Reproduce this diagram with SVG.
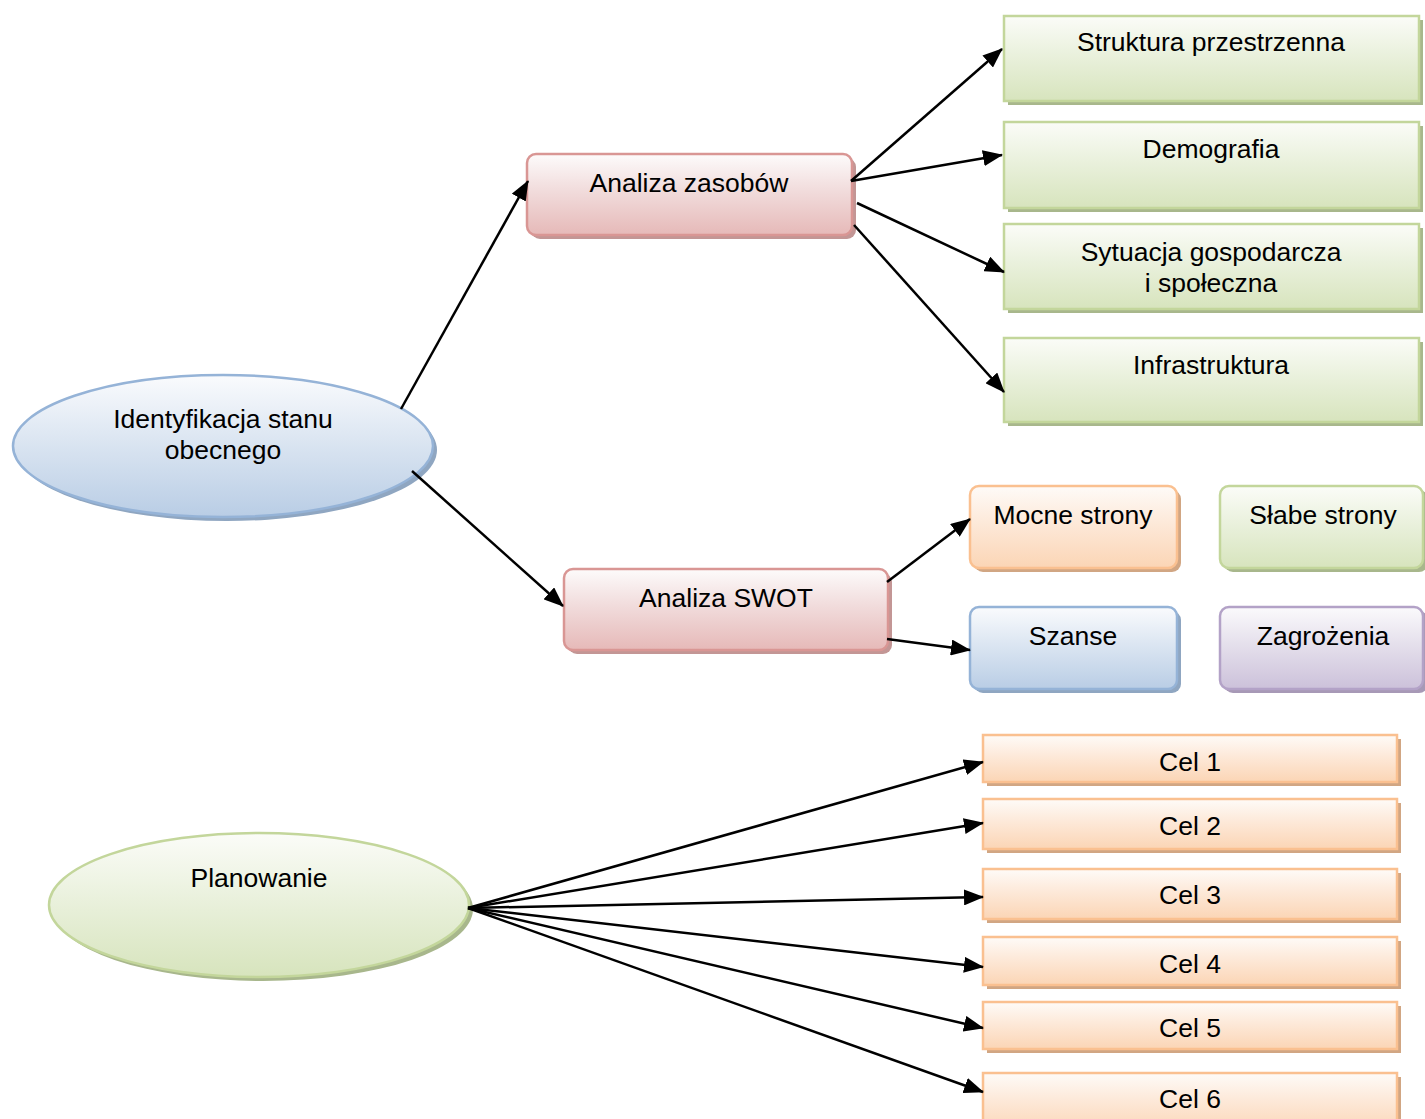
<svg xmlns="http://www.w3.org/2000/svg" width="1425" height="1119" viewBox="0 0 1425 1119">
<defs>
<linearGradient id="gGreen" x1="0" y1="0" x2="0" y2="1"><stop offset="0" stop-color="#fbfcf8"/><stop offset="0.45" stop-color="#eaf1dd"/><stop offset="1" stop-color="#d7e4bd"/></linearGradient>
<linearGradient id="gRed" x1="0" y1="0" x2="0" y2="1"><stop offset="0" stop-color="#fdfbfb"/><stop offset="0.45" stop-color="#f1dcdc"/><stop offset="1" stop-color="#e6b9b8"/></linearGradient>
<linearGradient id="gOrange" x1="0" y1="0" x2="0" y2="1"><stop offset="0" stop-color="#fefbf8"/><stop offset="0.45" stop-color="#fde9d9"/><stop offset="1" stop-color="#fbd5b5"/></linearGradient>
<linearGradient id="gBlue" x1="0" y1="0" x2="0" y2="1"><stop offset="0" stop-color="#fafbfd"/><stop offset="0.45" stop-color="#dce6f2"/><stop offset="1" stop-color="#b9cde5"/></linearGradient>
<linearGradient id="gPurple" x1="0" y1="0" x2="0" y2="1"><stop offset="0" stop-color="#fbfafc"/><stop offset="0.45" stop-color="#e5e0ec"/><stop offset="1" stop-color="#ccc1da"/></linearGradient>
<marker id="arr" markerUnits="userSpaceOnUse" markerWidth="20" markerHeight="16" viewBox="0 0 20 16" refX="19" refY="8" orient="auto">
<path d="M0,0 L20,8 L0,16 z" fill="#000"/>
</marker>
</defs>
<style>
text{font-family:"Liberation Sans",Arial,sans-serif;font-size:26.5px;fill:#000;text-anchor:middle}
.green{fill:url(#gGreen);stroke:#c3d69b;stroke-width:2.5}
.red{fill:url(#gRed);stroke:#d99694;stroke-width:2.5}
.orange{fill:url(#gOrange);stroke:#fac090;stroke-width:2.5}
.blue{fill:url(#gBlue);stroke:#95b3d7;stroke-width:2.5}
.purple{fill:url(#gPurple);stroke:#b3a2c7;stroke-width:2.5}
.shG{fill:#a8b78c}
.shR{fill:#c39695}
.shO{fill:#d1a683}
.shB{fill:#8fa6c1}
.shP{fill:#a799b6}
.conn line{stroke:#000;stroke-width:2.5;marker-end:url(#arr)}
</style>

<g id="identyfikacja">
<ellipse class="shB" cx="227" cy="450" rx="210" ry="71"/>
<ellipse class="blue" cx="223" cy="446" rx="210" ry="71"/>
<text x="223" y="428">Identyfikacja stanu</text>
<text x="223" y="459">obecnego</text>
</g>

<g id="planowanie">
<ellipse class="shG" cx="263" cy="909" rx="210" ry="72"/>
<ellipse class="green" cx="259" cy="905" rx="210" ry="72"/>
<text x="259" y="887">Planowanie</text>
</g>

<g id="analiza-zasobow">
<rect class="shR" x="531" y="158" width="325" height="81" rx="9"/>
<rect class="red" x="527" y="154" width="325" height="81" rx="9"/>
<text x="689" y="192">Analiza zasobów</text>
</g>

<g id="analiza-swot">
<rect class="shR" x="568" y="573" width="324" height="81" rx="9"/>
<rect class="red" x="564" y="569" width="324" height="81" rx="9"/>
<text x="726" y="607">Analiza SWOT</text>
</g>

<g id="struktura">
<rect class="shG" x="1008" y="20" width="415" height="85"/>
<rect class="green" x="1004" y="16" width="415" height="85"/>
<text x="1211" y="51">Struktura przestrzenna</text>
</g>

<g id="demografia">
<rect class="shG" x="1008" y="126" width="415" height="86"/>
<rect class="green" x="1004" y="122" width="415" height="86"/>
<text x="1211" y="158">Demografia</text>
</g>

<g id="sytuacja">
<rect class="shG" x="1008" y="228" width="415" height="85"/>
<rect class="green" x="1004" y="224" width="415" height="85"/>
<text x="1211" y="261">Sytuacja gospodarcza</text>
<text x="1211" y="292">i społeczna</text>
</g>

<g id="infrastruktura">
<rect class="shG" x="1008" y="342" width="415" height="84"/>
<rect class="green" x="1004" y="338" width="415" height="84"/>
<text x="1211" y="374">Infrastruktura</text>
</g>

<g id="mocne">
<rect class="shO" x="974" y="490" width="207" height="82" rx="9"/>
<rect class="orange" x="970" y="486" width="207" height="82" rx="9"/>
<text x="1073" y="524">Mocne strony</text>
</g>

<g id="slabe">
<rect class="shG" x="1224" y="490" width="204" height="82" rx="9"/>
<rect class="green" x="1220" y="486" width="203" height="82" rx="9"/>
<text x="1323" y="524">Słabe strony</text>
</g>

<g id="szanse">
<rect class="shB" x="974" y="611" width="207" height="82" rx="9"/>
<rect class="blue" x="970" y="607" width="207" height="82" rx="9"/>
<text x="1073" y="645">Szanse</text>
</g>

<g id="zagrozenia">
<rect class="shP" x="1224" y="611" width="204" height="82" rx="9"/>
<rect class="purple" x="1220" y="607" width="203" height="82" rx="9"/>
<text x="1323" y="645">Zagrożenia</text>
</g>

<g id="cel1">
<rect class="shO" x="987" y="739" width="414" height="47"/>
<rect class="orange" x="983" y="735" width="414" height="47"/>
<text x="1190" y="771">Cel 1</text>
</g>
<g id="cel2">
<rect class="shO" x="987" y="803" width="414" height="50"/>
<rect class="orange" x="983" y="799" width="414" height="50"/>
<text x="1190" y="835">Cel 2</text>
</g>
<g id="cel3">
<rect class="shO" x="987" y="873" width="414" height="50"/>
<rect class="orange" x="983" y="869" width="414" height="50"/>
<text x="1190" y="904">Cel 3</text>
</g>
<g id="cel4">
<rect class="shO" x="987" y="941" width="414" height="48"/>
<rect class="orange" x="983" y="937" width="414" height="48"/>
<text x="1190" y="973">Cel 4</text>
</g>
<g id="cel5">
<rect class="shO" x="987" y="1006" width="414" height="47"/>
<rect class="orange" x="983" y="1002" width="414" height="47"/>
<text x="1190" y="1037">Cel 5</text>
</g>
<g id="cel6">
<rect class="shO" x="987" y="1077" width="414" height="60"/>
<rect class="orange" x="983" y="1073" width="414" height="60"/>
<text x="1190" y="1108">Cel 6</text>
</g>

<g id="connectors" class="conn">
<line x1="401" y1="409" x2="528" y2="181"/>
<line x1="412" y1="471" x2="563" y2="606"/>
<line x1="851" y1="181" x2="1002" y2="49"/>
<line x1="851" y1="181" x2="1002" y2="155"/>
<line x1="857" y1="203" x2="1004" y2="272"/>
<line x1="854" y1="225" x2="1004" y2="392"/>
<line x1="887" y1="582" x2="970" y2="519"/>
<line x1="887" y1="639" x2="970" y2="650"/>
<line x1="468" y1="908" x2="983" y2="762"/>
<line x1="468" y1="908" x2="983" y2="823"/>
<line x1="468" y1="908" x2="983" y2="897"/>
<line x1="468" y1="908" x2="983" y2="967"/>
<line x1="468" y1="908" x2="983" y2="1028"/>
<line x1="468" y1="908" x2="983" y2="1092"/>
</g>
</svg>
